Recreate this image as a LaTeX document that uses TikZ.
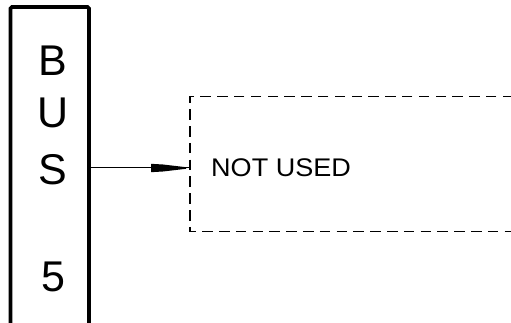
\documentclass[tikz,border=0pt]{standalone}
\usepackage{fontspec}
\setmainfont{Liberation Sans}
\begin{document}
\begin{tikzpicture}[x=1pt,y=-1pt,
  busbox/.style={draw=black,line width=3.6pt,rounded corners=1.5pt},
  buslabel/.style={font=\fontsize{43}{43}\selectfont,inner sep=0pt,anchor=center},
  unused/.style={draw=black,line width=1.4pt,dash pattern=on 10.5pt off 6.3pt},
  conn/.style={draw=black,line width=1pt}]
\useasboundingbox (0,0) rectangle (511,323);
\path[busbox] (10.5,330) -- (10.5,7) -- (89,7) -- (89,330);
\node[buslabel] (b) at (53,61) {B};
\node[buslabel] (u) at (53,113) {U};
\node[buslabel] (s) at (53,170) {S};
\node[buslabel] (five) at (53,277) {5};
\coordinate (busout) at (89,168);
\coordinate (boxin) at (190,168);
\draw[unused] (530,96.5) -- (190,96.5) -- (190,231.5) -- (530,231.5);
\draw[conn] (busout) -- (boxin);
\fill[black] (151,163.8) -- (163,164.5) -- (186,167.2) -- (186,168.8) -- (163,171.5) -- (151,172.2) -- cycle;
\node[font=\fontsize{25.5}{25.5}\selectfont,inner sep=0pt,anchor=west,xscale=1.06] (nu) at (211,167.5) {NOT USED};
\end{tikzpicture}
\end{document}
